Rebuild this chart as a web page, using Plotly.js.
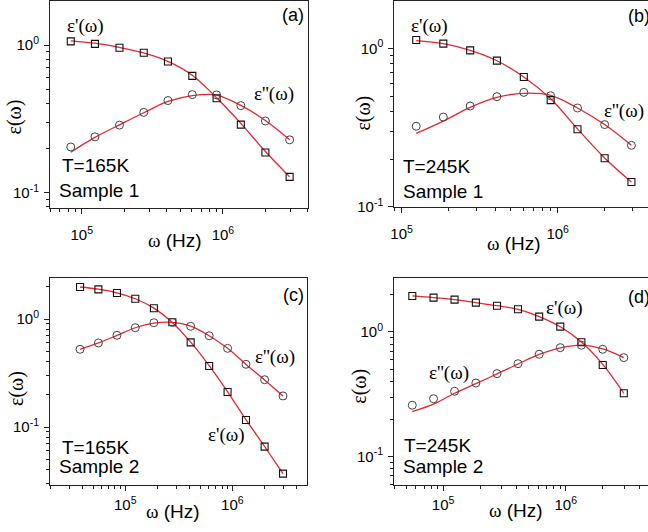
<!DOCTYPE html>
<html>
<head>
<meta charset="utf-8">
<script src="https://cdn.plot.ly/plotly-3.0.1.min.js"></script>
<style>html,body{margin:0;padding:0;background:#fff;}#chart{width:648px;height:532px;}</style>
</head>
<body>
<div id="chart"></div>
<script>
// ---- data ----
const freqA = [83.6e3, 124e3, 185e3, 275e3, 408e3, 607e3, 902e3, 1.34e6, 2.0e6, 2.97e6];
const epsRealA = [1.06, 1.02, 0.96, 0.888, 0.774, 0.619, 0.436, 0.289, 0.187, 0.128];
const epsImagA = [0.204, 0.239, 0.287, 0.350, 0.421, 0.462, 0.460, 0.389, 0.306, 0.228];
const fitRealA = [1.07, 1.03, 0.965, 0.885, 0.775, 0.625, 0.44, 0.295, 0.19, 0.128];
const fitImagA = [0.188, 0.237, 0.288, 0.348, 0.415, 0.455, 0.458, 0.39, 0.308, 0.228];

const freqB = [124e3, 185e3, 275e3, 408e3, 607e3, 902e3, 1.34e6, 2.0e6, 2.97e6];
const epsRealB = [1.128, 1.071, 0.971, 0.836, 0.659, 0.471, 0.308, 0.202, 0.143];
const epsImagB = [0.322, 0.368, 0.432, 0.495, 0.527, 0.502, 0.42, 0.33, 0.244];
const fitRealB = [1.12, 1.07, 0.97, 0.835, 0.66, 0.48, 0.31, 0.203, 0.143];
const fitImagB = [0.29, 0.347, 0.424, 0.49, 0.52, 0.505, 0.42, 0.33, 0.244];

const freqC = [37.8e3, 56.1e3, 83.6e3, 124e3, 185e3, 275e3, 408e3, 607e3, 902e3, 1.34e6, 2.0e6, 2.97e6];
const epsRealC = [1.98, 1.88, 1.74, 1.54, 1.256, 0.932, 0.608, 0.367, 0.211, 0.116, 0.0658, 0.037];
const epsImagC = [0.524, 0.600, 0.706, 0.831, 0.924, 0.931, 0.856, 0.700, 0.535, 0.381, 0.274, 0.194];
const fitRealC = [1.98, 1.89, 1.75, 1.54, 1.26, 0.93, 0.61, 0.37, 0.212, 0.117, 0.066, 0.037];
const fitImagC = [0.524, 0.6, 0.705, 0.83, 0.915, 0.93, 0.86, 0.7, 0.535, 0.38, 0.273, 0.194];

const freqD = [56.1e3, 83.6e3, 124e3, 185e3, 275e3, 408e3, 607e3, 902e3, 1.34e6, 2.0e6, 2.97e6];
const epsRealD = [1.946, 1.886, 1.817, 1.719, 1.626, 1.521, 1.327, 1.103, 0.827, 0.543, 0.322];
const epsImagD = [0.258, 0.291, 0.334, 0.389, 0.463, 0.556, 0.662, 0.748, 0.782, 0.726, 0.622];
const fitRealD = [1.946, 1.89, 1.82, 1.72, 1.625, 1.52, 1.33, 1.1, 0.83, 0.55, 0.322];
const fitImagD = [0.229, 0.263, 0.322, 0.385, 0.46, 0.553, 0.66, 0.745, 0.785, 0.73, 0.622];

const xTickVals = [1e5, 1e6];
const xTickText = ['10<sup>5</sup>', '10<sup>6</sup>'];
const yTickVals = [0.1, 1];
const yTickText = ['10<sup>-1</sup>', '10<sup>0</sup>'];

const panelLabels = ['(a)', '(b)', '(c)', '(d)'];
const tempLabels = ['T=165K', 'T=245K', 'T=165K', 'T=245K'];
const sampleLabels = ['Sample 1', 'Sample 1', 'Sample 2', 'Sample 2'];

// ---- styling / geometry ----
const W = 648, H = 532;
const SANS = 'Liberation Sans, Arial, sans-serif';
const SERIF = 'Liberation Serif, Times New Roman, serif';
const RED = '#e8262b';
const fx = p => p / W;
const fy = p => 1 - p / H;

const panels = [
  {f: freqA, r: epsRealA, i: epsImagA, fr: fitRealA, fi: fitImagA,
   dom: [50, 308.3, 1, 208.3], xr: [4.775, 6.605], yr: [-1.106, 0.299], xs: 8},
  {f: freqB, r: epsRealB, i: epsImagB, fr: fitRealB, fi: fitImagB,
   dom: [394.3, 648, 1, 207.3], xr: [4.953, 6.579], yr: [-1.004, 0.299], xs: 8},
  {f: freqC, r: epsRealC, i: epsImagC, fr: fitRealC, fi: fitImagC,
   dom: [50, 306.7, 278.3, 485], xr: [4.297, 6.694], yr: [-1.537, 0.377], xs: 1},
  {f: freqD, r: epsRealD, i: epsImagD, fr: fitRealD, fi: fitImagD,
   dom: [394, 648, 278.3, 485], xr: [4.6, 6.67], yr: [-1.229, 0.431], xs: 1}
];

const traces = [];
const layout = {
  width: W, height: H,
  margin: {l: 0, r: 0, t: 0, b: 0},
  paper_bgcolor: '#fff', plot_bgcolor: '#fff',
  showlegend: false,
  font: {family: SANS, color: '#000', size: 15},
  annotations: []
};

panels.forEach((p, k) => {
  const n = k === 0 ? '' : String(k + 1);
  const xa = 'x' + n, ya = 'y' + n;
  traces.push({x: p.f, y: p.fr, xaxis: xa, yaxis: ya, mode: 'lines',
    line: {color: RED, width: 1.3, shape: 'spline', smoothing: 1}, hoverinfo: 'skip'});
  traces.push({x: p.f, y: p.fi, xaxis: xa, yaxis: ya, mode: 'lines',
    line: {color: RED, width: 1.3, shape: 'spline', smoothing: 1}, hoverinfo: 'skip'});
  traces.push({x: p.f, y: p.r, xaxis: xa, yaxis: ya, mode: 'markers',
    marker: {symbol: 'square-open', size: 7, color: '#111', line: {width: 1.1, color: '#111'}}});
  traces.push({x: p.f, y: p.i, xaxis: xa, yaxis: ya, mode: 'markers',
    marker: {symbol: 'circle-open', size: 8, color: '#444', line: {width: 1, color: '#444'}}});

  const common = {
    type: 'log', showline: true, linecolor: '#222', linewidth: 1, mirror: true,
    showgrid: false, zeroline: false, ticks: 'outside', ticklen: 5, tickwidth: 1,
    tickcolor: '#222', tickmode: 'array',
    tickfont: {family: SANS, size: 15, color: '#000'},
    minor: {ticks: 'outside', ticklen: 3, tickwidth: 1, tickcolor: '#222', dtick: 'D1', showgrid: false}
  };
  layout['xaxis' + n] = Object.assign({}, common, {
    domain: [fx(p.dom[0]), fx(p.dom[1])], range: p.xr, anchor: ya,
    tickvals: xTickVals, ticktext: xTickText, ticklabelstandoff: p.xs
  });
  layout['yaxis' + n] = Object.assign({}, common, {
    domain: [fy(p.dom[3]), fy(p.dom[2])], range: p.yr, anchor: xa,
    tickvals: yTickVals, ticktext: yTickText, ticklabelstandoff: 2
  });
});

function ann(text, x, y, o) {
  layout.annotations.push(Object.assign({
    text: text, x: fx(x), y: fy(y), xref: 'paper', yref: 'paper',
    showarrow: false, xanchor: 'center', yanchor: 'middle',
    font: {family: SANS, size: 19, color: '#000'}
  }, o || {}));
}
const serif = {family: SERIF, size: 19, color: '#000'};
const wHz = '<span style="font-family:Liberation Serif">ω</span> (Hz)';

// panel (a)
ann(panelLabels[0], 293.3, 15, {font: {family: SANS, size: 18, color: '#000'}});
ann("ε'(ω)", 85, 26, {font: serif});
ann("ε''(ω)", 274, 94.3, {font: serif});
ann(tempLabels[0], 60, 165.7, {xanchor: 'left'});
ann(sampleLabels[0], 56.5, 190, {xanchor: 'left'});
ann('ε(ω)', 13.5, 117, {font: {family: SERIF, size: 20, color: '#000'}, textangle: -90});
ann(wHz, 175, 240.7);

// panel (b)
ann(panelLabels[1], 625.7, 16, {xanchor: 'left', font: {family: SANS, size: 18, color: '#000'}});
ann("ε'(ω)", 429, 26, {font: serif});
ann("ε''(ω)", 624, 111, {font: serif});
ann(tempLabels[1], 400.5, 166.7, {xanchor: 'left'});
ann(sampleLabels[1], 400.5, 191, {xanchor: 'left'});
ann('ε(ω)', 363.3, 113.3, {font: {family: SERIF, size: 20, color: '#000'}, textangle: -90});
ann(wHz, 514, 243);

// panel (c)
ann(panelLabels[2], 293.3, 295, {font: {family: SANS, size: 18, color: '#000'}});
ann("ε''(ω)", 275, 356.7, {font: serif});
ann("ε'(ω)", 226.7, 435, {font: serif});
ann(tempLabels[2], 60, 447.7, {xanchor: 'left'});
ann(sampleLabels[2], 56.5, 466.7, {xanchor: 'left'});
ann('ε(ω)', 16.7, 388.3, {font: {family: SERIF, size: 20, color: '#000'}, textangle: -90});
ann(wHz, 173.3, 511.7);

// panel (d)
ann(panelLabels[3], 625.7, 296.7, {xanchor: 'left', font: {family: SANS, size: 18, color: '#000'}});
ann("ε'(ω)", 564, 307.7, {font: serif});
ann("ε''(ω)", 449, 373.3, {font: serif});
ann(tempLabels[3], 401.5, 445, {xanchor: 'left'});
ann(sampleLabels[3], 400.5, 466.7, {xanchor: 'left'});
ann('ε(ω)', 360, 386.7, {font: {family: SERIF, size: 20, color: '#000'}, textangle: -90});
ann(wHz, 515.7, 510);

Plotly.newPlot('chart', traces, layout, {staticPlot: true, displayModeBar: false});
</script>
</body>
</html>
